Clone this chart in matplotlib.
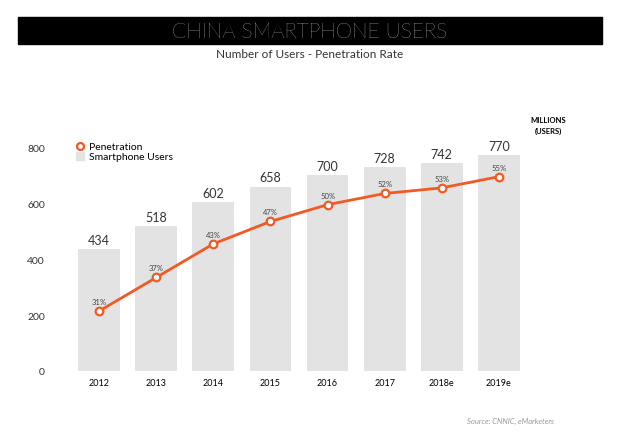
import matplotlib
matplotlib.use("Agg")
import matplotlib.pyplot as plt
from matplotlib.patches import Rectangle
from matplotlib.lines import Line2D

years = ["2012", "2013", "2014", "2015", "2016", "2017", "2018e", "2019e"]
users = [434, 518, 602, 658, 700, 728, 742, 770]
penetration = [31, 37, 43, 47, 50, 52, 53, 55]

plt.rcParams['font.family'] = ['Lato', 'DejaVu Sans']
fig = plt.figure(figsize=(6.2, 4.39), dpi=100)
fig.patches.append(Rectangle((18/620, 1-45/439), 584/620, 27/439, transform=fig.transFigure, color='black'))
fig.text(0.5, 1-31.5/439, "CHINA SMARTPHONE USERS", color='white', ha='center', va='center', fontsize=15, fontweight='light')
fig.text(0.5, 1-54/439, "Number of Users - Penetration Rate", ha='center', va='center', fontsize=8.5, color='#333333')

ax = fig.add_axes([70/620, 67/439, 458/620, 224/439])
x = list(range(len(years)))
ax.bar(x, users, width=0.73, color='#e3e3e3', zorder=1)
for xi, u in zip(x, users):
    ax.text(xi, u + 12, str(u), ha='center', va='bottom', fontsize=9, color='#333333')
ax.set_ylim(0, 800)
ax.set_xlim(-0.51, 7.51)
ax.set_xticks(x)
ax.set_xticklabels(years, fontsize=6.5)
ax.yaxis.tick_right()
ax.set_yticks([0, 200, 400, 600, 800])
ax.tick_params(axis='y', labelsize=7.5, length=0, pad=18, colors='#333333')
ax.tick_params(axis='x', length=0, pad=5)
for s in ax.spines.values():
    s.set_visible(False)
ax.text(1.045, 1.06, "MILLIONS\n(USERS)", transform=ax.transAxes, ha='center', va='bottom', fontsize=5.5, fontweight='bold', linespacing=1.6)

ax2 = ax.twinx()
ax2.set_ylim(20.3, 60.3)
ax2.plot(x, penetration, color='#f15a22', lw=2, marker='o', ms=5.5, mfc='white', mec='#f15a22', mew=1.6, zorder=3)
for xi, p in zip(x, penetration):
    ax2.text(xi, p + 1.1, f"{p}%", ha='center', va='bottom', fontsize=5.5, color='#444444')
ax2.set_yticks([])
for s in ax2.spines.values():
    s.set_visible(False)

handles = [Line2D([], [], color='#f15a22', marker='o', ls='none', mfc='white', mew=1.6, ms=5),
           Line2D([], [], color='#e3e3e3', marker='s', ls='none', ms=6)]
fig.legend(handles, ["Penetration", "Smartphone Users"], loc='upper left', bbox_to_anchor=(70/620, 1-138/439),
           frameon=False, fontsize=7.5, handletextpad=0.3, labelspacing=0.05, borderpad=0, handlelength=1)
fig.text(554/620, 1-421/439, "Source: CNNIC, eMarketers", ha='right', va='center', fontsize=5.5, style='italic', color='#999999')
fig.savefig("out.png", dpi=100)
